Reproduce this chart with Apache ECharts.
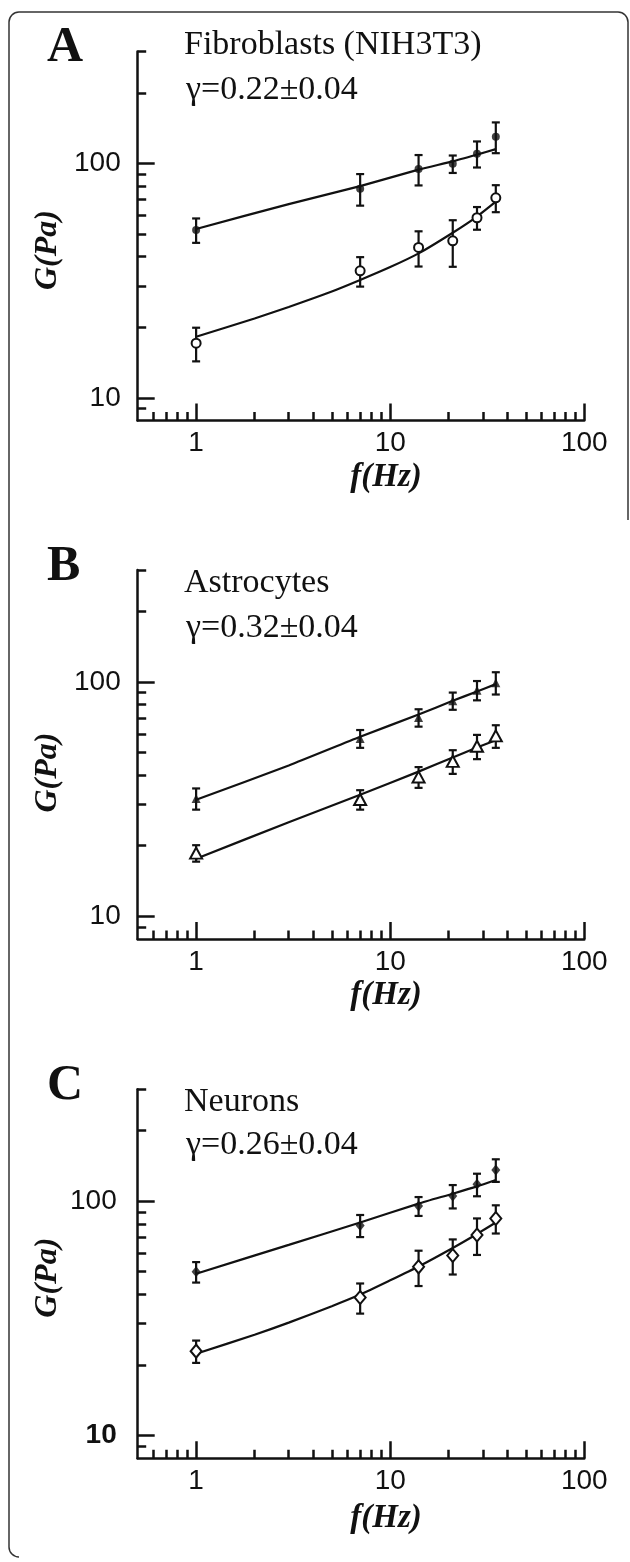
<!DOCTYPE html>
<html>
<head>
<meta charset="utf-8">
<script src="https://cdn.jsdelivr.net/npm/echarts@6/dist/echarts.min.js"></script>
<style>
  html, body { margin: 0; padding: 0; background: #fff; }
  #chart { width: 630px; height: 1562px; }
</style>
</head>
<body>
<div id="chart"></div>
<script>
// measured frequencies (Hz)
var freq = [1, 7, 14, 21, 28, 35];

// A - fibroblasts
var fibroFilled = [52, 78, 94.5, 99.5, 110, 130];
var fibroFilledErr = [6.2, 12, 14, 8.5, 14, 19.5];
var fibroOpen = [17.1, 34.8, 43.8, 46.7, 58.6, 71.3];
var fibroOpenErr = [2.8, 5, 7.5, 10.5, 6.5, 9.4];

// B - astrocytes
var astroFilled = [31.8, 57.3, 70.4, 83, 92.1, 99.1];
var astroFilledErr = [3.3, 5, 6, 7, 8.7, 10.8];
var astroOpen = [18.6, 31.5, 39.3, 45.8, 53.1, 58.8];
var astroOpenErr = [1.5, 3, 4, 5.3, 6.3, 6.5];

// C - neurons
var neuroFilled = [49.9, 78.7, 95.2, 105, 117.8, 135.7];
var neuroFilledErr = [5, 8.5, 8.8, 12, 13, 15];
var neuroOpen = [22.9, 38.8, 52.4, 58.6, 71.6, 84.3];
var neuroOpenErr = [2.5, 5.7, 9, 10, 12.7, 11.6];

// fit curves
var fitFreqShort = [1, 3, 7, 14, 21, 28, 35];
var fitFreqLong = [1, 2, 3, 5, 7, 10, 14, 21, 28, 35];
var fibroFitFilled = [52.5, 67, 80, 94, 102, 109, 115];
var fibroFitOpen = [18.2, 21.8, 24.4, 28.4, 31.8, 36.1, 41.3, 50.6, 59.3, 68.6];
var astroFitFilled = [31.4, 44, 58.3, 72.6, 83, 91, 97.8];
var astroFitOpen = [17.6, 25.2, 33, 41.4, 47.6, 52.5, 56.4];
var neuroFitFilled = [49, 65, 81, 97.5, 107.5, 115.5, 123];
var neuroFitOpen = [22.3, 26.9, 30.3, 35.6, 39.9, 45.9, 52.6, 63.1, 72.4, 81];

// ticks
var xMajorTicks = [1, 10, 100];
var xMinorTicks = [0.6, 0.7, 0.8, 0.9, 2, 3, 4, 5, 6, 7, 8, 9, 20, 30, 40, 50, 60, 70, 80, 90];
var yMajorTicks = [10, 100];
var yMinorTicks = [9, 20, 30, 40, 50, 60, 70, 80, 90, 200, 300];

var titles = ['Fibroblasts (NIH3T3)', 'Astrocytes', 'Neurons'];
var gammas = ['\u03b3=0.22\u00b10.04', '\u03b3=0.32\u00b10.04', '\u03b3=0.26\u00b10.04'];
var letters = ['A', 'B', 'C'];

var panels = [
  { off: 0, filled: fibroFilled, filledErr: fibroFilledErr, open: fibroOpen, openErr: fibroOpenErr,
    fitF: [fitFreqShort, fibroFitFilled], fitO: [fitFreqLong, fibroFitOpen],
    symF: ['circle', 8], symO: ['circle', 9], titleY: 45.5, gammaY: 90.5, gY: 250, fY: 477 },
  { off: 518.5, filled: astroFilled, filledErr: astroFilledErr, open: astroOpen, openErr: astroOpenErr,
    fitF: [fitFreqShort, astroFitFilled], fitO: [fitFreqShort, astroFitOpen],
    symF: ['triangle', [9, 9]], symO: ['triangle', [12, 11]], titleY: 65, gammaY: 109.5, gY: 254, fY: 477 },
  { off: 1037.7, filled: neuroFilled, filledErr: neuroFilledErr, open: neuroOpen, openErr: neuroOpenErr,
    fitF: [fitFreqShort, neuroFitFilled], fitO: [fitFreqLong, neuroFitOpen],
    symF: ['diamond', [9, 11]], symO: ['diamond', [11, 13]], titleY: 64, gammaY: 107.5, gY: 240, fY: 481 }
];

var INK = '#111';
var SANS = 'Liberation Sans';
var SERIF = 'Liberation Serif';

function zip(xs, ys) { return xs.map(function (x, i) { return [x, ys[i]]; }); }
function bars(m, e) { return freq.map(function (f, i) { return [f, m[i] - e[i], m[i] + e[i]]; }); }

function errorBarItem(params, api) {
  var x = api.value(0);
  var lo = api.coord([x, api.value(1)]);
  var hi = api.coord([x, api.value(2)]);
  var hw = 4;
  var st = { stroke: INK, lineWidth: 2.2 };
  return { type: 'group', children: [
    { type: 'line', shape: { x1: lo[0], y1: lo[1], x2: hi[0], y2: hi[1] }, style: st },
    { type: 'line', shape: { x1: lo[0] - hw, y1: lo[1], x2: lo[0] + hw, y2: lo[1] }, style: st },
    { type: 'line', shape: { x1: hi[0] - hw, y1: hi[1], x2: hi[0] + hw, y2: hi[1] }, style: st }
  ] };
}

var grid = [], xAxis = [], yAxis = [], series = [], graphic = [];

panels.forEach(function (p, i) {
  grid.push({ left: 137.7, top: p.off + 51.5, width: 446.6, height: 369, containLabel: false, outerBoundsMode: 'none' });

  var xBase = { gridIndex: i, type: 'log', logBase: 10, min: 0.5, max: 100, position: 'bottom', splitLine: { show: false } };
  xAxis.push(Object.assign({}, xBase, {
    axisLine: { show: true, onZero: false, lineStyle: { color: INK, width: 2.5 } },
    axisTick: { show: true, inside: true, length: 17, customValues: xMajorTicks, lineStyle: { color: INK, width: 2.5 } },
    axisLabel: { show: true, customValues: xMajorTicks, margin: 9, color: INK, fontFamily: SANS, fontSize: 28 }
  }));
  xAxis.push(Object.assign({}, xBase, {
    axisLine: { show: false, onZero: false },
    axisTick: { show: true, inside: true, length: 8.5, customValues: xMinorTicks, lineStyle: { color: INK, width: 2.5 } },
    axisLabel: { show: false }
  }));

  var yBase = { gridIndex: i, type: 'log', logBase: 10, min: 8, max: 300, position: 'left', splitLine: { show: false } };
  var yLabel = { show: true, customValues: yMajorTicks, margin: 17, color: INK, fontFamily: SANS, fontSize: 28 };
  if (i === 2) {
    yLabel.margin = 21;
    yLabel.formatter = function (v) { return v === 10 ? '{b|10}' : String(v); };
    yLabel.rich = { b: { fontWeight: 'bold', fontFamily: SANS, fontSize: 28, color: INK } };
  }
  yAxis.push(Object.assign({}, yBase, {
    axisLine: { show: true, onZero: false, lineStyle: { color: INK, width: 2.5 } },
    axisTick: { show: true, inside: true, length: 17, customValues: yMajorTicks, lineStyle: { color: INK, width: 2.5 } },
    axisLabel: yLabel
  }));
  yAxis.push(Object.assign({}, yBase, {
    axisLine: { show: false, onZero: false },
    axisTick: { show: true, inside: true, length: 8.5, customValues: yMinorTicks, lineStyle: { color: INK, width: 2.5 } },
    axisLabel: { show: false }
  }));

  var ax = { xAxisIndex: 2 * i, yAxisIndex: 2 * i };
  [p.fitF, p.fitO].forEach(function (fit) {
    series.push(Object.assign({ type: 'line', data: zip(fit[0], fit[1]), showSymbol: false, silent: true, z: 2,
      smooth: 0.2, lineStyle: { color: INK, width: 2.2 } }, ax));
  });
  [[p.filled, p.filledErr], [p.open, p.openErr]].forEach(function (d) {
    series.push(Object.assign({ type: 'custom', data: bars(d[0], d[1]), renderItem: errorBarItem, z: 3,
      encode: { x: 0, y: [1, 2] }, silent: true }, ax));
  });
  series.push(Object.assign({ type: 'scatter', data: zip(freq, p.filled), symbol: p.symF[0], symbolSize: p.symF[1], z: 4,
    itemStyle: { color: INK }, silent: true }, ax));
  series.push(Object.assign({ type: 'scatter', data: zip(freq, p.open), symbol: p.symO[0], symbolSize: p.symO[1], z: 5,
    itemStyle: { color: '#fff', borderColor: INK, borderWidth: 2, opacity: 1 }, silent: true }, ax));

  graphic.push({ type: 'text', x: 47, y: p.off + 48.5, style: { text: letters[i], font: 'bold 50px ' + SERIF, fill: INK, align: 'left', verticalAlign: 'middle' } });
  graphic.push({ type: 'text', x: 184, y: p.off + p.titleY, style: { text: titles[i], font: '34px ' + SERIF, fill: INK, align: 'left', verticalAlign: 'middle' } });
  graphic.push({ type: 'text', x: 186, y: p.off + p.gammaY, style: { text: gammas[i], font: '34px ' + SERIF, fill: INK, align: 'left', verticalAlign: 'middle' } });
  graphic.push({ type: 'text', x: 47.5, y: p.off + p.gY, rotation: Math.PI / 2, style: { text: 'G(Pa)', font: 'italic bold 32px ' + SERIF, fill: INK, align: 'center', verticalAlign: 'middle' } });
  graphic.push({ type: 'text', x: 386, y: p.off + p.fY, style: { text: 'f(Hz)', font: 'italic bold 33px ' + SERIF, fill: INK, align: 'center', verticalAlign: 'middle' } });
});

// rounded frame (cropped on the right/bottom in the original)
var frame = { stroke: '#333', lineWidth: 1.5, fill: null };
graphic.push({ type: 'polyline', shape: { points: [[9, 1547], [9, 22]] }, style: frame });
graphic.push({ type: 'arc', shape: { cx: 19, cy: 22, r: 10, startAngle: Math.PI, endAngle: 1.5 * Math.PI, clockwise: true }, style: frame });
graphic.push({ type: 'polyline', shape: { points: [[19, 12], [618, 12]] }, style: frame });
graphic.push({ type: 'arc', shape: { cx: 618, cy: 22, r: 10, startAngle: 1.5 * Math.PI, endAngle: 2 * Math.PI, clockwise: true }, style: frame });
graphic.push({ type: 'polyline', shape: { points: [[628, 22], [628, 520]] }, style: frame });
graphic.push({ type: 'arc', shape: { cx: 19, cy: 1547, r: 10, startAngle: 0.5 * Math.PI, endAngle: Math.PI, clockwise: true }, style: frame });

var myChart = echarts.init(document.getElementById('chart'));
myChart.setOption({
  backgroundColor: '#fff',
  animation: false,
  grid: grid,
  xAxis: xAxis,
  yAxis: yAxis,
  series: series,
  graphic: graphic
});
</script>
</body>
</html>
